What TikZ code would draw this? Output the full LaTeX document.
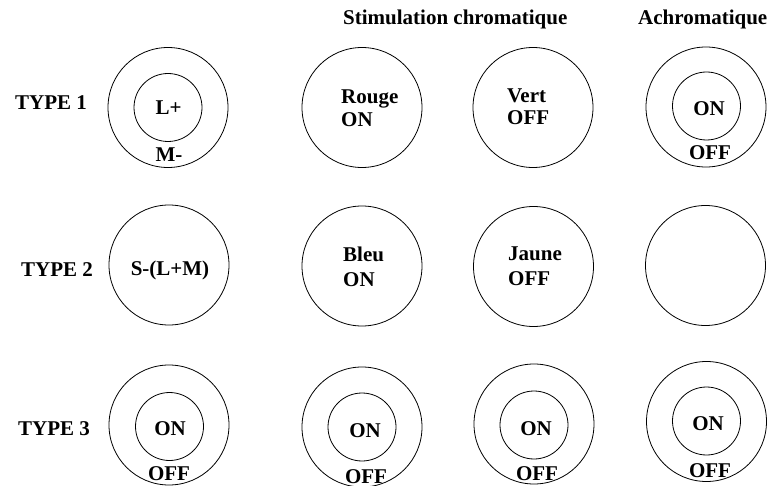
\documentclass[tikz,border=0pt]{standalone}
\usepackage{fontspec}
\setmainfont{Liberation Serif}
\usetikzlibrary{positioning}

\begin{document}
\begin{tikzpicture}[x=1pt, y=-1pt,
  ring/.style={draw, circle, line width=0.8pt, minimum size=120pt, inner sep=0pt},
  core/.style={draw, circle, line width=0.8pt, minimum size=68pt, inner sep=0pt},
  txt/.style={font=\fontsize{21}{25}\selectfont\bfseries, inner sep=0pt},
  two/.style={txt, align=left, anchor=north west}
]
\useasboundingbox (0,0) rectangle (771,486);

% Column headers
\node[txt, anchor=base west] (stim) at (343,25) {Stimulation chromatique};
\node[txt, anchor=base west] (achro) at (638,25) {Achromatique};

% Row labels
\node[txt, anchor=base west] (type1) at (15,110) {TYPE 1};
\node[txt, anchor=base west] (type2) at (21,277) {TYPE 2};
\node[txt, anchor=base west] (type3) at (18,435) {TYPE 3};

% Type 1
\node[ring] (r1a) at (168,107.5) {};
\node[core] (r1ai) at (168,107.5) {};
\node[txt, anchor=base] (lplus) at (168.5,115) {L+};
\node[txt, anchor=base] (mminus) at (169,162) {M-};
\node[ring] (r1b) at (362,107.5) {};
\node[two] (rouge) at (341,90) {Rouge\\[-2pt]ON};
\node[ring] (r1c) at (533,107.5) {};
\node[two] (vert) at (507,89) {Vert\\[-3pt]OFF};
\node[ring] (r1d) at (706,107) {};
\node[core] (r1di) at (706.5,106) {};
\node[txt, anchor=base] (on1) at (709,116) {ON};
\node[txt, anchor=base] (off1) at (710,160) {OFF};

% Type 2
\node[ring] (r2a) at (169,265) {};
\node[txt, anchor=base] (slm) at (170,276) {S-(L+M)};
\node[ring] (r2b) at (362,266) {};
\node[two] (bleu) at (343,247) {Bleu\\ON};
\node[ring] (r2c) at (533.5,266.5) {};
\node[two] (jaune) at (508,247) {Jaune\\OFF};
\node[ring] (r2d) at (705.5,265.5) {};

% Type 3
\node[ring] (r3a) at (169,425) {};
\node[core] (r3ai) at (169.5,426.5) {};
\node[txt, anchor=base] (on3a) at (170,435) {ON};
\node[txt, anchor=base] (off3a) at (169,480) {OFF};
\node[ring] (r3b) at (362,427) {};
\node[core] (r3bi) at (362,427) {};
\node[txt, anchor=base] (on3b) at (365,437) {ON};
\node[txt, anchor=base] (off3b) at (366,483) {OFF};
\node[ring] (r3c) at (534,424) {};
\node[core] (r3ci) at (534,425) {};
\node[txt, anchor=base] (on3c) at (536,435) {ON};
\node[txt, anchor=base] (off3c) at (537,480) {OFF};
\node[ring] (r3d) at (706.5,421.5) {};
\node[core] (r3di) at (706.5,421) {};
\node[txt, anchor=base] (on3d) at (708,430) {ON};
\node[txt, anchor=base] (off3d) at (710,477) {OFF};

\end{tikzpicture}
\end{document}
